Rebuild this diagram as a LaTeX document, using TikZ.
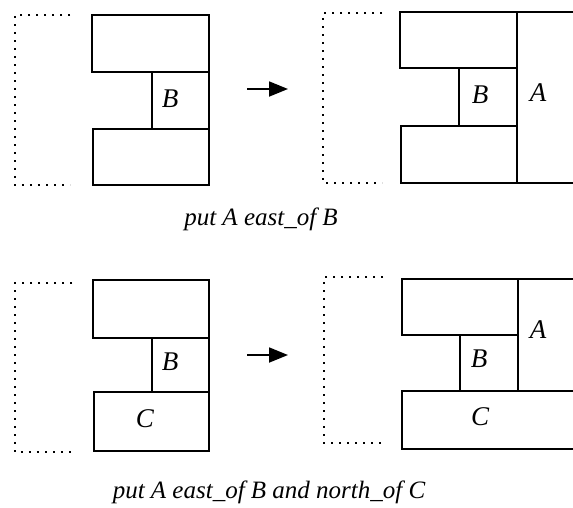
\documentclass[tikz,border=0pt]{standalone}
\usepackage{fontspec}
\setmainfont{Liberation Serif}
\usetikzlibrary{arrows.meta}
\begin{document}
\begin{tikzpicture}[x=1pt,y=-1pt,
  box/.style={line width=1.6pt},
  frame/.style={line width=2pt,dash pattern=on 1.8pt off 6.2pt},
  lbl/.style={font=\itshape\fontsize{27}{30}\selectfont,inner sep=0pt},
  captext/.style={font=\itshape\fontsize{25}{28}\selectfont,inner sep=0pt,anchor=base},
  move/.style={line width=1.8pt,-{Triangle[length=19pt,width=15pt]}}]
\useasboundingbox (0,0) rectangle (573,507);

% ---- row 1: before ----
\draw[frame] (70,15) -- (15,15) -- (15,185) -- (70,185);
\draw[box] (92,15) rectangle (209,72);
\draw[box] (152,72) rectangle (209,129);
\draw[box] (93,129) rectangle (209,185);
\node[lbl] (b1) at (170,99) {B};

\coordinate (s1) at (247,89);
\coordinate (e1) at (288,89);
\draw[move] (s1) -- (e1);

% ---- row 1: after ----
\draw[frame] (382,13) -- (323,13) -- (323,183) -- (382,183);
\draw[box] (400,12) rectangle (517,68);
\draw[box] (459,68) rectangle (517,126);
\draw[box] (401,126) rectangle (517,183);
\draw[box] (575,12) -- (517,12) -- (517,183) -- (575,183);
\node[lbl] (b2) at (480,95) {B};
\node[lbl] (a2) at (538,93) {A};

\node[captext] (c1) at (261,225) {put A east\_of B};

% ---- row 2: before ----
\draw[frame] (72,283) -- (15,283) -- (15,452) -- (72,452);
\draw[box] (93,280) rectangle (209,338);
\draw[box] (152,338) rectangle (209,392);
\draw[box] (94,392) rectangle (209,451);
\node[lbl] (b3) at (170,362) {B};
\node[lbl] (cc3) at (145,419) {C};

\coordinate (s2) at (247,355);
\coordinate (e2) at (288,355);
\draw[move] (s2) -- (e2);

% ---- row 2: after ----
\draw[frame] (383,277) -- (324,277) -- (324,443) -- (383,443);
\draw[box] (402,279) rectangle (518,335);
\draw[box] (460,335) rectangle (518,391);
\draw[box] (575,279) -- (518,279) -- (518,391);
\draw[box] (575,391) -- (402,391) -- (402,449) -- (575,449);
\node[lbl] (a4) at (538,330) {A};
\node[lbl] (b4) at (479,359) {B};
\node[lbl] (cc4) at (480,417) {C};

\node[captext] (c2) at (269,498) {put A east\_of B and north\_of C};
\end{tikzpicture}
\end{document}
